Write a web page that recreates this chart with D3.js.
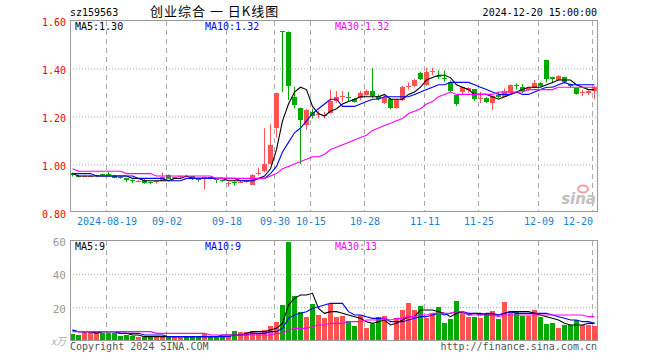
<!DOCTYPE html>
<html>
<head>
<meta charset="utf-8">
<script src="https://cdn.jsdelivr.net/npm/d3@7"></script>
<style>
    body { margin: 0; background: #fff; }
    text { font-family: "DejaVu Sans Mono", monospace; font-size: 10px; }
    .axis path { display: none; }
</style>
</head>
<body>
<div id="chart"></div>
<script>
// daily candles, 2024-08-09 .. 2024-12-20 (index = trading day)
var opens = [0.961,0.952,0.947,0.948,0.949,0.958,0.957,0.952,0.946,0.940,0.933,0.927,0.935,0.925,0.928,0.930,0.955,0.942,0.945,0.952,
    0.948,0.936,0.943,0.946,0.938,0.934,0.920,0.926,0.923,0.925,0.915,0.958,0.968,1.000,1.149,1.555,1.549,1.280,1.232,1.162,
    1.215,1.206,1.204,1.215,1.260,1.282,1.279,1.271,1.278,1.288,1.304,1.283,1.255,1.270,1.235,1.267,1.324,1.325,1.380,1.329,
    1.384,1.368,1.358,1.343,1.288,1.297,1.308,1.311,1.273,1.274,1.255,1.288,1.280,1.294,1.330,1.319,1.308,1.319,1.339,1.433,
    1.361,1.350,1.361,1.332,1.315,1.296,1.297,1.305];
var closes = [0.952,0.948,0.951,0.951,0.953,0.955,0.955,0.944,0.943,0.931,0.927,0.930,0.922,0.921,0.930,0.947,0.940,0.945,0.948,0.949,
    0.936,0.931,0.945,0.940,0.934,0.930,0.921,0.924,0.926,0.930,0.955,0.961,0.999,1.079,1.295,1.553,1.326,1.246,1.183,1.225,
    1.197,1.208,1.206,1.263,1.278,1.284,1.277,1.260,1.297,1.304,1.283,1.270,1.278,1.232,1.267,1.322,1.326,1.350,1.353,1.382,
    1.386,1.366,1.356,1.305,1.250,1.319,1.315,1.270,1.275,1.257,1.283,1.278,1.305,1.329,1.328,1.301,1.315,1.339,1.326,1.354,
    1.354,1.367,1.339,1.322,1.292,1.298,1.305,1.322];
var highs = [0.965,0.955,0.953,0.954,0.955,0.960,0.966,0.955,0.948,0.942,0.935,0.933,0.937,0.927,0.932,0.964,0.957,0.947,0.952,0.954,
    0.950,0.938,0.948,0.948,0.940,0.936,0.925,0.928,0.930,0.932,0.958,0.985,1.149,1.165,1.297,1.555,1.552,1.322,1.235,1.230,
    1.230,1.220,1.218,1.308,1.304,1.304,1.300,1.275,1.305,1.310,1.399,1.290,1.285,1.275,1.270,1.325,1.340,1.355,1.385,1.401,
    1.401,1.390,1.390,1.348,1.290,1.322,1.320,1.313,1.300,1.278,1.286,1.300,1.315,1.332,1.336,1.333,1.318,1.350,1.341,1.435,
    1.363,1.370,1.364,1.335,1.318,1.309,1.307,1.325];
var lows = [0.948,0.944,0.945,0.946,0.947,0.953,0.953,0.940,0.938,0.926,0.920,0.925,0.918,0.915,0.918,0.928,0.937,0.940,0.943,0.946,
    0.933,0.926,0.894,0.937,0.920,0.926,0.905,0.910,0.920,0.922,0.913,0.952,0.965,0.998,1.110,1.300,1.267,1.232,0.999,1.142,
    1.190,1.190,1.190,1.210,1.255,1.260,1.260,1.256,1.265,1.285,1.276,1.265,1.250,1.228,1.230,1.262,1.310,1.320,1.350,1.325,
    1.370,1.355,1.342,1.300,1.242,1.290,1.297,1.262,1.254,1.254,1.225,1.275,1.278,1.290,1.310,1.295,1.305,1.316,1.322,1.339,
    1.336,1.348,1.336,1.318,1.289,1.283,1.288,1.270];
// volume, 万手
var volumes = [3.6,3.0,5.0,5.0,5.6,4.4,4.0,4.0,2.4,3.0,2.4,2.0,2.0,1.6,2.0,2.4,2.0,2.0,2.4,1.6,
    1.6,2.4,3.6,2.4,2.4,2.0,2.4,5.4,5.0,4.8,5.4,4.4,6.0,8.4,11.0,21.0,58.8,26.4,17.0,13.8,
    21.6,15.0,13.2,21.6,14.0,14.4,11.6,8.4,14.8,7.4,9.6,13.8,14.4,0.3,13.2,18.0,22.2,18.0,20.4,13.2,
    16.0,19.8,10.2,12.6,23.4,16.8,13.8,13.8,13.2,16.2,17.4,12.6,22.8,17.4,16.8,14.4,14.4,18.0,13.8,9.6,
    10.2,7.2,9.0,9.0,12.0,9.0,9.0,8.6];
// the 29 days before the window, estimated from where the MA lines start
var priorCloses = [0.990,0.992,0.995,0.993,0.988,0.985,0.987,0.990,0.986,0.982,0.980,0.983,0.985,0.981,0.978,
    0.975,0.977,0.979,0.974,0.970,0.968,0.972,0.970,0.966,0.962,0.960,0.958,0.956,0.955];
var priorVolumes = [5.5,6.0,5.0,4.5,6.5,5.0,5.5,6.0,4.5,5.0,5.5,6.0,5.0,4.5,5.0,
    5.5,6.0,5.0,4.5,5.0,5.5,6.5,6.0,5.0,5.5,6.0,6.5,5.5,6.0];

var tickIdx = [6, 16, 26, 34, 40, 49, 59, 68, 78, 87];
var tickLabels = ["2024-08-19", "09-02", "09-18", "09-30", "10-15", "10-28", "11-11", "11-25", "12-09", "12-20"];
var priceTicks = [0.8, 1.0, 1.2, 1.4, 1.6];
var volTicks = [20, 40, 60];
var priceLegend = ["MA5:1.30", "MA10:1.32", "MA30:1.32"];
var volLegend = ["MA5:9", "MA10:9", "MA30:13"];

var width = 660, height = 360;
var left = 70, right = 597;
var RED = "#ff5252", GREEN = "#00a800";
var maColors = ["#000000", "#0000ff", "#ff00ff"];

var svg = d3.select("#chart").append("svg")
    .attr("width", width)
    .attr("height", height);

var x = d3.scaleLinear().domain([0, closes.length - 1]).range([72.5, 72.5 + 6 * (closes.length - 1)]);
var yP = d3.scaleLinear().domain([0.8, 1.6]).range([212, 20]);
var yV = d3.scaleLinear().domain([0, 60]).range([340, 240]);

function movingAvg(prior, vals, n, dec) {
    var all = prior.concat(vals);
    return vals.map(function (v, i) {
        var k = i + prior.length;
        var m = d3.mean(all.slice(k - n + 1, k + 1));
        return Math.round(m * Math.pow(10, dec)) / Math.pow(10, dec);
    });
}

function colorOf(i) {
    return closes[i] >= opens[i] ? RED : GREEN;
}

// header
svg.append("text").attr("x", 70).attr("y", 16).attr("fill", "#000").text("sz159563");
svg.append("text").attr("x", 150).attr("y", 16)
    .style("font-family", "'Noto Sans CJK SC', sans-serif").style("font-size", "13px")
    .style("letter-spacing", "1px")
    .attr("fill", "#000").text("创业综合 一 日K线图");
svg.append("text").attr("x", 597).attr("y", 16).attr("text-anchor", "end").attr("fill", "#000")
    .text("2024-12-20 15:00:00");

function panel(top, bottom) {
    var g = svg.append("g");
    // dashed vertical grid
    g.selectAll("line.vg")
        .data(tickIdx)
        .enter()
        .append("line")
        .attr("x1", function (d) { return Math.floor(x(d) - 2) + 0.5; })
        .attr("x2", function (d) { return Math.floor(x(d) - 2) + 0.5; })
        .attr("y1", top)
        .attr("y2", bottom)
        .attr("stroke", "#aaa")
        .attr("stroke-dasharray", "5,4");
    return g;
}

// ---- price panel ----
panel(21, 211);

var pAxis = d3.axisLeft(yP)
    .tickValues(priceTicks)
    .tickSize(-(right - left))
    .tickPadding(4)
    .tickFormat(d3.format(".2f"));

var pg = svg.append("g")
    .attr("class", "axis")
    .attr("transform", "translate(" + left + ",0.5)")
    .call(pAxis);
pg.selectAll("line").attr("stroke", "#aaa").attr("stroke-dasharray", "1,2")
    .filter(function (d) { return d === 0.8 || d === 1.6; }).remove();
pg.selectAll("text").attr("fill", "#ff0000").attr("dy", "0.45em");

// sina watermark
svg.append("ellipse").attr("cx", 583).attr("cy", 189).attr("rx", 5).attr("ry", 3.5)
    .attr("fill", "none").attr("stroke", "#f3a0a0").attr("stroke-width", 2);
svg.append("text").attr("x", 596).attr("y", 204).attr("text-anchor", "end")
    .style("font-family", "'DejaVu Sans', sans-serif").style("font-size", "15px")
    .style("font-weight", "bold").style("font-style", "italic")
    .attr("fill", "#c0c0c0").text("sina");

// candles
var cg = svg.append("g");
cg.selectAll("line.wick")
    .data(closes)
    .enter()
    .append("line")
    .attr("x1", function (d, i) { return Math.round(x(i) - 2.5) + 2.5; })
    .attr("x2", function (d, i) { return Math.round(x(i) - 2.5) + 2.5; })
    .attr("y1", function (d, i) { return yP(highs[i]); })
    .attr("y2", function (d, i) { return yP(lows[i]); })
    .attr("stroke", function (d, i) { return colorOf(i); });

cg.selectAll("rect.body")
    .data(closes)
    .enter()
    .append("rect")
    .attr("x", function (d, i) { return Math.round(x(i) - 2.5); })
    .attr("width", 5)
    .attr("y", function (d, i) { return Math.round(yP(Math.max(opens[i], d))); })
    .attr("height", function (d, i) {
        return Math.max(1, Math.round(Math.abs(yP(opens[i]) - yP(d))));
    })
    .attr("fill", function (d, i) { return colorOf(i); });

// price MAs
var pMA = [5, 10, 30].map(function (n) { return movingAvg(priorCloses, closes, n, 2); });
var pLine = d3.line()
    .x(function (d, i) { return x(i); })
    .y(function (d) { return yP(d); });
pMA.forEach(function (ma, k) {
    svg.append("path")
        .datum(ma)
        .attr("d", pLine)
        .attr("fill", "none")
        .attr("stroke", maColors[k])
        .attr("stroke-width", 1.1);
});

// frame
svg.append("rect").attr("x", left + 0.5).attr("y", 20.5).attr("width", right - left).attr("height", 191)
    .attr("fill", "none").attr("stroke", "#999");

// legends
[75, 205, 335].forEach(function (lx, k) {
    svg.append("text").attr("x", lx).attr("y", 30).attr("fill", maColors[k]).text(priceLegend[k]);
});

// date axis
var xAxis = d3.axisBottom(x)
    .tickValues(tickIdx)
    .tickSize(0)
    .tickPadding(7)
    .tickFormat(function (d, i) { return tickLabels[i]; });
var xg = svg.append("g")
    .attr("class", "axis")
    .attr("transform", "translate(-2,211)")
    .call(xAxis);
xg.selectAll("text").attr("fill", "#1a7fd4");
xg.selectAll(".tick").filter(function (d) { return d === 87; })
    .select("text").attr("text-anchor", "end").attr("x", 0);

// ---- volume panel ----
panel(241, 340);

var vAxis = d3.axisLeft(yV)
    .tickValues(volTicks)
    .tickSize(-(right - left))
    .tickPadding(4);
var vg = svg.append("g")
    .attr("class", "axis")
    .attr("transform", "translate(" + left + ",0.5)")
    .call(vAxis);
vg.selectAll("line").attr("stroke", "#aaa").attr("stroke-dasharray", "1,2")
    .filter(function (d) { return d === 60; }).remove();
vg.selectAll("text").attr("fill", "#999").attr("dy", "0.45em").style("font-size", "11px");

svg.append("text").attr("x", 66).attr("y", 345).attr("text-anchor", "end")
    .style("font-family", "'Noto Sans CJK SC', sans-serif").style("font-size", "10px")
    .style("font-style", "italic").attr("fill", "#aaa").text("x万");

svg.append("g").selectAll("rect")
    .data(volumes)
    .enter()
    .append("rect")
    .attr("x", function (d, i) { return Math.round(x(i) - 2.5); })
    .attr("width", 5)
    .attr("y", function (d) { return Math.round(yV(d)); })
    .attr("height", function (d) { return Math.max(1, 340 - Math.round(yV(d))); })
    .attr("fill", function (d, i) { return colorOf(i); });

var vMA = [5, 10, 30].map(function (n) { return movingAvg(priorVolumes, volumes, n, 0); });
var vLine = d3.line()
    .x(function (d, i) { return x(i); })
    .y(function (d) { return yV(d); });
vMA.forEach(function (ma, k) {
    svg.append("path")
        .datum(ma)
        .attr("d", vLine)
        .attr("fill", "none")
        .attr("stroke", maColors[k])
        .attr("stroke-width", 1.1);
});

svg.append("rect").attr("x", left + 0.5).attr("y", 240.5).attr("width", right - left).attr("height", 100)
    .attr("fill", "none").attr("stroke", "#999");

[75, 205, 335].forEach(function (lx, k) {
    svg.append("text").attr("x", lx).attr("y", 250).attr("fill", maColors[k]).text(volLegend[k]);
});

// footer
svg.append("text").attr("x", 70).attr("y", 350).attr("fill", "#555").text("Copyright 2024 SINA.COM");
svg.append("text").attr("x", 597).attr("y", 350).attr("text-anchor", "end").attr("fill", "#555")
    .text("http://finance.sina.com.cn");
</script>
</body>
</html>
